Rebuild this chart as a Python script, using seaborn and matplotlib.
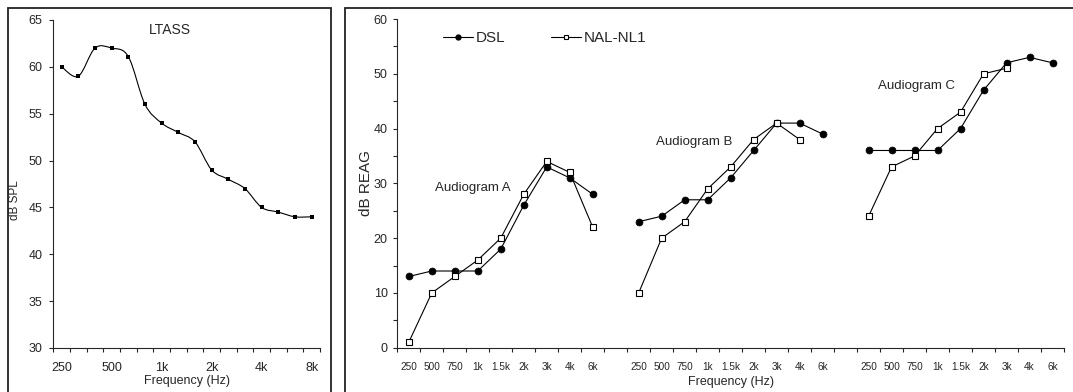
import numpy as np
import pandas as pd
import matplotlib
matplotlib.use("Agg")
import matplotlib.pyplot as plt
from matplotlib.path import Path
from matplotlib.patches import PathPatch, Rectangle
from matplotlib.lines import Line2D
import seaborn as sns

# Long-term average speech spectrum, 1/3-octave bands
ltass_bands = ["250", "315", "400", "500", "630", "800", "1k", "1.25k",
               "1.6k", "2k", "2.5k", "3.15k", "4k", "5k", "6.3k", "8k"]
ltass_db = [60, 59, 62, 62, 61.1, 56, 54, 53, 52, 49, 48, 47, 45, 44.5, 44, 44]
ltass_tick_labels = ["250", "500", "1k", "2k", "4k", "8k"]

# Prescribed real-ear aided gain for three audiograms
freq_labels = ["250", "500", "750", "1k", "1.5k", "2k", "3k", "4k", "6k"]
audiograms = ["A", "B", "C"]
dsl_a = [13, 14, 14, 14, 18, 26, 33, 31, 28]
nal_a = [1, 10, 13, 16, 20, 28, 34, 32, 22]
dsl_b = [23, 24, 27, 27, 31, 36, 41, 41, 39]
nal_b = [10, 20, 23, 29, 33, 38, 41, 38, None]
dsl_c = [36, 36, 36, 36, 40, 47, 52, 53, 52]
nal_c = [24, 33, 35, 40, 43, 50, 51, None, None]

sns.set_style("ticks")
plt.rcParams["font.family"] = ["Liberation Sans", "DejaVu Sans"]
plt.rcParams["axes.linewidth"] = 0.8
plt.rcParams["xtick.major.width"] = 0.8
plt.rcParams["ytick.major.width"] = 0.8
plt.rcParams["xtick.minor.width"] = 0.8
plt.rcParams["ytick.minor.width"] = 0.8

W, H = 1073, 392
fig = plt.figure(figsize=(W / 100, H / 100), dpi=100)


def fig_box(x0, y_top, x1, y_bot):
    return [x0 / W, 1 - y_bot / H, (x1 - x0) / W, (y_bot - y_top) / H]


# Panel frames
frame_kw = dict(fill=False, edgecolor="#222222", linewidth=1.3,
                transform=fig.transFigure, clip_on=False)
fig.add_artist(Rectangle((8 / W, -0.1), (331 - 8) / W, 1.1 - 8 / H, **frame_kw))
fig.add_artist(Rectangle((345 / W, -0.1), 1.2, 1.1 - 8 / H, **frame_kw))

# ---------------- LTASS panel ----------------
ax1 = fig.add_axes(fig_box(53.3, 20, 320, 348))
pos1 = np.arange(len(ltass_bands))


def smooth_path(xs, ys):
    """Cubic Bezier path through the points (Catmull-Rom tangents)."""
    pts = np.column_stack([xs, ys]).astype(float)
    verts = [pts[0]]
    codes = [Path.MOVETO]
    n = len(pts)
    for i in range(n - 1):
        p0 = pts[i - 1] if i > 0 else pts[i]
        p1, p2 = pts[i], pts[i + 1]
        p3 = pts[i + 2] if i + 2 < n else pts[i + 1]
        c1 = p1 + (p2 - p0) / 6.0
        c2 = p2 - (p3 - p1) / 6.0
        verts += [c1, c2, p2]
        codes += [Path.CURVE4] * 3
    return Path(verts, codes)


ax1.add_patch(PathPatch(smooth_path(pos1, ltass_db), fill=False,
                        edgecolor="black", linewidth=0.8))
sns.scatterplot(x=pos1, y=ltass_db, ax=ax1, marker="s", color="black",
                s=9, linewidth=0, zorder=3)

ax1.set_xlim(-0.5, len(ltass_bands) - 0.5)
ax1.set_ylim(30, 65)
ax1.set_yticks(np.arange(30, 66, 5))
ax1.set_xticks(pos1[::3])
ax1.set_xticklabels(ltass_tick_labels)
ax1.set_xticks(np.arange(-0.5, len(ltass_bands)), minor=True)
ax1.tick_params(axis="x", which="major", length=0, pad=10, labelsize=9)
ax1.tick_params(axis="x", which="minor", length=3, direction="out")
ax1.tick_params(axis="y", which="major", length=3, pad=5, labelsize=9)
ax1.set_xlabel("Frequency (Hz)", fontsize=9, labelpad=1)
ax1.set_ylabel("dB SPL", fontsize=8.5)
ax1.yaxis.set_label_coords(-0.122, 0.45)
sns.despine(ax=ax1)
ax1.text(6.5, 63.9, "LTASS", ha="center", va="center", fontsize=10)

# ---------------- REAG panel ----------------
ax2 = fig.add_axes(fig_box(397.3, 19, 1064, 347.7))
dsl_sets = [dsl_a, dsl_b, dsl_c]
nal_sets = [nal_a, nal_b, nal_c]
nf = len(freq_labels)

rows = []
for g, name in enumerate(audiograms):
    for k, f in enumerate(freq_labels):
        x = g * (nf + 1) + k
        rows.append((name, "DSL", x, dsl_sets[g][k]))
        if nal_sets[g][k] is not None:
            rows.append((name, "NAL-NL1", x, nal_sets[g][k]))
df = pd.DataFrame(rows, columns=["audiogram", "method", "pos", "gain"])

for name in audiograms:
    d = df[(df.audiogram == name) & (df.method == "DSL")]
    sns.lineplot(data=d, x="pos", y="gain", ax=ax2, color="black",
                 linewidth=0.8, marker="o", markersize=5,
                 markeredgecolor="black", markerfacecolor="black",
                 markeredgewidth=0.5, estimator=None, sort=False, legend=False)
for name in audiograms:
    d = df[(df.audiogram == name) & (df.method == "NAL-NL1")]
    sns.lineplot(data=d, x="pos", y="gain", ax=ax2, color="black",
                 linewidth=0.8, marker="s", markersize=4.2,
                 markeredgecolor="black", markerfacecolor="white",
                 markeredgewidth=0.8, estimator=None, sort=False, legend=False)

n_slots = len(audiograms) * (nf + 1) - 1
ax2.set_xlim(-0.5, n_slots - 0.5)
ax2.set_ylim(0, 60)
ax2.set_yticks(np.arange(0, 61, 10))
ax2.set_yticks(np.arange(0, 61, 5), minor=True)
tick_pos = [g * (nf + 1) + k for g in range(len(audiograms)) for k in range(nf)]
ax2.set_xticks(tick_pos)
ax2.set_xticklabels(freq_labels * len(audiograms))
ax2.set_xticks(np.arange(-0.5, n_slots), minor=True)
ax2.tick_params(axis="x", which="major", length=0, pad=10, labelsize=7.2)
ax2.tick_params(axis="x", which="minor", length=3, direction="out")
ax2.tick_params(axis="y", which="both", length=3, pad=4, labelsize=9)
ax2.set_xlabel("Frequency (Hz)", fontsize=9, labelpad=3)
ax2.set_ylabel("dB REAG", fontsize=11)
ax2.yaxis.set_label_coords(-0.036, 0.5)
sns.despine(ax=ax2)

ax2.text(2.79, 29.15, "Audiogram A", ha="center", va="center", fontsize=9.5)
ax2.text(12.41, 37.6, "Audiogram B", ha="center", va="center", fontsize=9.5)
ax2.text(22.08, 47.8, "Audiogram C", ha="center", va="center", fontsize=9.5)

handles = [
    Line2D([], [], color="black", linewidth=0.8, marker="o", markersize=3.5,
           markerfacecolor="black"),
    Line2D([], [], color="black", linewidth=0.8, marker="s", markersize=3.2,
           markerfacecolor="white", markeredgewidth=0.8),
]
ax2.legend(handles, ["DSL", "NAL-NL1"], ncol=2, frameon=False,
           loc="upper left", bbox_to_anchor=(0.0686, 0.962),
           borderaxespad=0, borderpad=0, fontsize=11,
           handlelength=1.95, handletextpad=0.2, columnspacing=3.0)

fig.savefig("out.png", dpi=100)
